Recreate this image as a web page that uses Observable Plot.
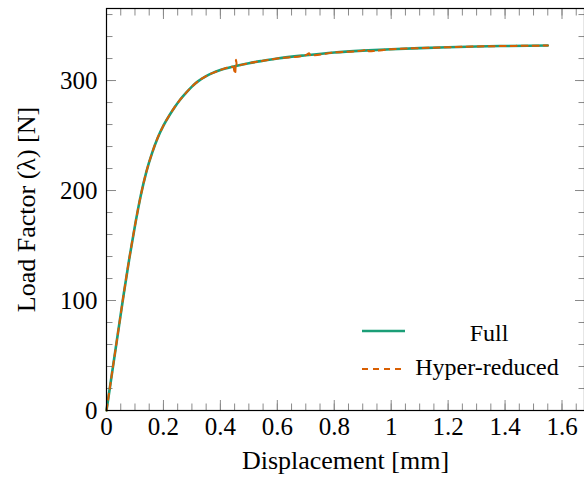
<!DOCTYPE html>
<html>
<head>
<meta charset="utf-8">
<script src="https://cdn.jsdelivr.net/npm/d3@7"></script>
<script src="https://cdn.jsdelivr.net/npm/@observablehq/plot@0.6"></script>
<style>
  body { margin: 0; background: #fff; }
  #wrap { position: relative; width: 584px; height: 481px; }
  #wrap svg text { font-family: "Liberation Serif", "DejaVu Serif", serif; }
  #legend { position: absolute; left: 0; top: 0; pointer-events: none; }
</style>
</head>
<body>
<div id="wrap"></div>
<script>
// ---- data ----
const fullX = [0, 0.02, 0.04, 0.06, 0.08, 0.10, 0.12, 0.14, 0.16, 0.18, 0.20, 0.22, 0.24, 0.26, 0.28, 0.30, 0.32, 0.35, 0.40, 0.45, 0.50, 0.55, 0.60, 0.70, 0.80, 0.90, 1.00, 1.10, 1.20, 1.30, 1.40, 1.55];
const fullY = [0, 35, 70, 105, 138, 168, 195, 217, 234, 248, 259, 268, 276, 283, 289, 294.5, 299, 304, 309.5, 313, 315.8, 318, 320, 323, 325.5, 327.2, 328.5, 329.5, 330.3, 331, 331.4, 331.8];
const hyperX = [0, 0.02, 0.04, 0.06, 0.08, 0.10, 0.12, 0.14, 0.16, 0.18, 0.20, 0.22, 0.24, 0.26, 0.28, 0.30, 0.32, 0.35, 0.40, 0.445, 0.452, 0.455, 0.458, 0.47, 0.50, 0.55, 0.60, 0.70, 0.712, 0.716, 0.80, 0.90, 0.917, 0.921, 1.00, 1.10, 1.20, 1.30, 1.40, 1.55];
const hyperY = [0, 35, 70, 105, 138, 168, 195, 217, 234, 248, 259, 268, 276, 283, 289, 294.5, 299, 304, 309.5, 312.6, 306, 319, 313.4, 314, 315.8, 318, 320, 323, 324.8, 322.8, 325.5, 327.2, 328.6, 326.6, 328.5, 329.5, 330.3, 331, 331.4, 331.8];
const xTicks = [0, 0.2, 0.4, 0.6, 0.8, 1, 1.2, 1.4, 1.6];
const yTicks = [0, 100, 200, 300];
const xMinor = d3.range(0, 1.66, 0.05);
const yMinor = d3.range(0, 361, 20);
const seriesNames = ["Full", "Hyper-reduced"];
const colors = ["#1b9e77", "#d95f02"];

const full = fullX.map((x, i) => ({x, y: fullY[i]}));
const hyper = hyperX.map((x, i) => ({x, y: hyperY[i]}));

const tickColor = "#8a8a8a";
const font = "Liberation Serif";

const plot = Plot.plot({
  width: 584,
  height: 481,
  marginLeft: 106,
  marginRight: 0,
  marginTop: 8,
  marginBottom: 71,
  style: {fontFamily: font, fontSize: "25px", color: "black", background: "white"},
  x: {domain: [0, 1.679]},
  y: {domain: [0, 365.5]},
  marks: [
    // minor ticks (inward)
    Plot.axisX({anchor: "bottom", ticks: xMinor, tickSize: 6.5, dy: -6.5, text: null, stroke: tickColor, label: null}),
    Plot.axisX({anchor: "top", ticks: xMinor, tickSize: 6.5, dy: 6.5, text: null, stroke: tickColor, label: null}),
    Plot.axisY({anchor: "left", ticks: yMinor, tickSize: 6.5, dx: 6.5, text: null, stroke: tickColor, label: null}),
    Plot.axisY({anchor: "right", ticks: yMinor, tickSize: 6.5, dx: -6.5, text: null, stroke: tickColor, label: null}),
    // major ticks (inward)
    Plot.axisX({anchor: "bottom", ticks: xTicks, tickSize: 10, dy: -10, text: null, stroke: tickColor, label: null}),
    Plot.axisX({anchor: "top", ticks: xTicks, tickSize: 10, dy: 10, text: null, stroke: tickColor, label: null}),
    Plot.axisY({anchor: "left", ticks: yTicks, tickSize: 10, dx: 10, text: null, stroke: tickColor, label: null}),
    Plot.axisY({anchor: "right", ticks: yTicks, tickSize: 10, dx: -10, text: null, stroke: tickColor, label: null}),
    // tick labels
    Plot.text(xTicks, {x: d => d, frameAnchor: "bottom", lineAnchor: "top", dy: 7, text: d => String(d), fontSize: 25, fill: "black"}),
    Plot.text(yTicks, {y: d => d, frameAnchor: "left", textAnchor: "end", dx: -9, text: d => String(d), fontSize: 25, fill: "black"}),
    // axis titles
    Plot.axisX({anchor: "bottom", ticks: [], label: "Displacement [mm]", labelAnchor: "center", labelArrow: "none", labelOffset: 58, fontSize: 26}),
    Plot.axisY({anchor: "left", ticks: [], label: "Load Factor (λ) [N]", labelAnchor: "center", labelArrow: "none", labelOffset: 90, fontSize: 26}),
    Plot.line(full, {x: "x", y: "y", stroke: colors[0], strokeWidth: 2.6, curve: "monotone-x"}),
    Plot.line(hyper, {x: "x", y: "y", stroke: colors[1], strokeWidth: 2, strokeDasharray: "6,5", curve: "monotone-x"}),
    Plot.frame({stroke: "black", strokeWidth: 1.2})
  ]
});

const wrap = document.getElementById("wrap");
wrap.appendChild(plot);

// legend (inside plot, bottom-right)
const ns = "http://www.w3.org/2000/svg";
const leg = document.createElementNS(ns, "svg");
leg.setAttribute("id", "legend");
leg.setAttribute("width", 584);
leg.setAttribute("height", 481);
const rows = [{y: 331, base: 341, cx: 489, dash: null}, {y: 369, base: 375, cx: 487, dash: "6,5"}];
rows.forEach((r, i) => {
  const ln = document.createElementNS(ns, "line");
  ln.setAttribute("x1", 362); ln.setAttribute("x2", 405);
  ln.setAttribute("y1", r.y); ln.setAttribute("y2", r.y);
  ln.setAttribute("stroke", colors[i]);
  ln.setAttribute("stroke-width", i === 0 ? 2.6 : 2);
  if (r.dash) ln.setAttribute("stroke-dasharray", r.dash);
  leg.appendChild(ln);
  const t = document.createElementNS(ns, "text");
  t.setAttribute("x", r.cx); t.setAttribute("y", r.base);
  t.setAttribute("text-anchor", "middle");
  t.setAttribute("font-size", 24);
  t.textContent = seriesNames[i];
  leg.appendChild(t);
});
wrap.appendChild(leg);
</script>
</body>
</html>
